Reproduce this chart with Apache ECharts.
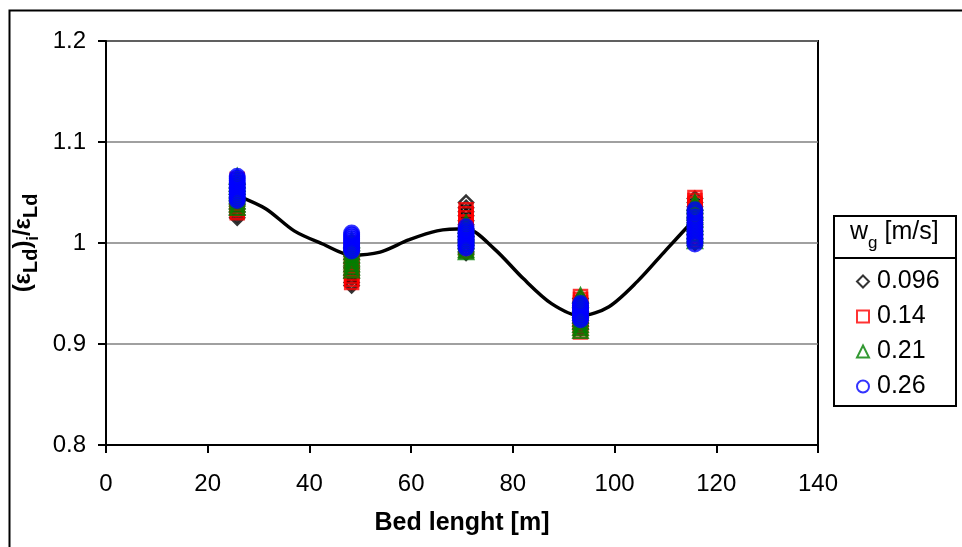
<!DOCTYPE html>
<html>
<head>
<meta charset="utf-8">
<script src="https://cdn.jsdelivr.net/npm/echarts@6/dist/echarts.min.js"></script>
<style>
  html, body { margin: 0; padding: 0; background: #fff; }
  #chart { width: 962px; height: 547px; }
</style>
</head>
<body>
<div id="chart"></div>
<script>
// bed positions of the measuring points
var clusterX = [25.8, 48.3, 70.8, 93.3, 115.8];

// (eps_Ld)i / eps_Ld values, one array per position, per gas velocity
var w0096 = [
    [1.025, 1.028, 1.031, 1.034, 1.038, 1.041, 1.044, 1.048, 1.051, 1.055, 1.058],
    [0.958, 0.961, 0.965, 0.968, 0.972, 0.976, 0.980, 0.984, 0.988, 0.992, 0.995],
    [0.990, 0.994, 0.998, 1.002, 1.006, 1.010, 1.014, 1.018, 1.022, 1.027, 1.031, 1.035, 1.040],
    [0.915, 0.918, 0.921, 0.925, 0.928, 0.931, 0.935, 0.938, 0.941, 0.945],
    [1.000, 1.004, 1.008, 1.012, 1.016, 1.020, 1.024, 1.028, 1.032, 1.036, 1.040, 1.044]
];
var w014 = [
    [1.030, 1.033, 1.036, 1.039, 1.042, 1.045, 1.048, 1.051, 1.054, 1.057, 1.060, 1.063],
    [0.961, 0.964, 0.967, 0.970, 0.973, 0.977, 0.981, 0.985, 0.989, 0.993, 0.997, 1.000],
    [0.992, 0.995, 0.998, 1.001, 1.005, 1.009, 1.013, 1.017, 1.021, 1.025, 1.029, 1.033],
    [0.912, 0.915, 0.918, 0.921, 0.924, 0.927, 0.931, 0.934, 0.937, 0.941, 0.944, 0.947],
    [1.003, 1.007, 1.011, 1.015, 1.019, 1.023, 1.027, 1.031, 1.035, 1.039, 1.042, 1.045]
];
var w021 = [
    [1.035, 1.038, 1.041, 1.044, 1.047, 1.050, 1.053, 1.056, 1.059, 1.062, 1.066],
    [0.973, 0.976, 0.979, 0.982, 0.985, 0.988, 0.991, 0.994, 0.997, 1.000, 1.003],
    [0.991, 0.993, 0.996, 0.999, 1.002, 1.005, 1.008, 1.011, 1.014, 1.017, 1.020],
    [0.913, 0.916, 0.919, 0.922, 0.925, 0.928, 0.931, 0.934, 0.937, 0.940, 0.944, 0.948],
    [1.002, 1.005, 1.009, 1.012, 1.016, 1.019, 1.023, 1.026, 1.030, 1.033, 1.037, 1.040]
];
var w026 = [
    [1.042, 1.044, 1.046, 1.048, 1.050, 1.052, 1.054, 1.056, 1.058, 1.060, 1.062, 1.064, 1.066],
    [0.992, 0.994, 0.996, 0.998, 1.000, 1.002, 1.004, 1.006, 1.008, 1.010],
    [0.995, 0.997, 0.999, 1.001, 1.003, 1.005, 1.007, 1.009, 1.011, 1.013, 1.016],
    [0.924, 0.926, 0.928, 0.930, 0.932, 0.934, 0.936, 0.938, 0.940],
    [0.999, 1.002, 1.005, 1.008, 1.011, 1.014, 1.017, 1.020, 1.023, 1.026, 1.030, 1.033]
];

// mean profile curve
var curveX = [25.8, 31.4, 37.0, 42.6, 48.3, 53.9, 59.5, 65.1, 70.8, 76.4, 82.0, 87.6, 93.3, 98.9, 104.5, 110.1, 115.8];
var curveY = [1.047, 1.034, 1.012, 0.999, 0.988, 0.991, 1.003, 1.012, 1.014, 0.994, 0.965, 0.940, 0.928, 0.937, 0.962, 0.993, 1.024];

var legendNames = ['0.096', '0.14', '0.21', '0.26'];

function toPoints(groups) {
    var pts = [];
    for (var i = 0; i < groups.length; i++) {
        for (var j = 0; j < groups[i].length; j++) {
            pts.push([clusterX[i], groups[i][j]]);
        }
    }
    return pts;
}

function curvePoints() {
    var pts = [];
    for (var i = 0; i < curveX.length; i++) {
        pts.push([curveX[i], curveY[i]]);
    }
    return pts;
}

function scatterSeries(name, groups, symbol, size, color, bw) {
    return {
        name: name,
        type: 'scatter',
        data: toPoints(groups),
        symbol: symbol,
        symbolSize: size,
        z: 3,
        itemStyle: {
            color: 'rgba(255,255,255,0)',
            borderColor: color,
            borderWidth: bw
        },
        emphasis: { disabled: true }
    };
}

var chart = echarts.init(document.getElementById('chart'));
var font = '"Liberation Sans", Arial, sans-serif';

var option = {
    animation: false,
    textStyle: { fontFamily: font },
    grid: {
        left: 106,
        top: 41,
        right: 144,
        bottom: 102,
        show: true,
        borderColor: '#000',
        borderWidth: 2,
        backgroundColor: '#fff'
    },
    xAxis: {
        type: 'value',
        min: 0,
        max: 140,
        interval: 20,
        name: 'Bed lenght [m]',
        nameLocation: 'middle',
        nameGap: 66,
        nameTextStyle: { fontSize: 25, fontWeight: 'bold', color: '#000', fontFamily: font },
        axisLine: { show: true, lineStyle: { color: '#000', width: 2 } },
        axisTick: { show: true, length: 8, lineStyle: { color: '#000', width: 2 } },
        axisLabel: { fontSize: 24, color: '#000', margin: 27, fontFamily: font },
        splitLine: { show: false }
    },
    yAxis: {
        type: 'value',
        min: 0.8,
        max: 1.2,
        interval: 0.1,
        name: '{a|(ε}{s|Ld}{a|)}{t|i}{a|/ε}{s|Ld}',
        nameLocation: 'middle',
        nameGap: 62,
        nameTextStyle: {
            color: '#000',
            rich: {
                a: { fontSize: 24, fontWeight: 'bold', fontFamily: font, color: '#000', verticalAlign: 'top', lineHeight: 30 },
                s: { fontSize: 20, fontWeight: 'bold', fontFamily: font, color: '#000', verticalAlign: 'bottom', lineHeight: 30 },
                t: { fontSize: 16, fontWeight: 'bold', fontFamily: font, color: '#000', verticalAlign: 'bottom', lineHeight: 30 }
            }
        },
        axisLine: { show: true, lineStyle: { color: '#000', width: 2 } },
        axisTick: { show: true, length: 8, lineStyle: { color: '#000', width: 2 } },
        axisLabel: {
            fontSize: 24,
            color: '#000',
            margin: 20,
            fontFamily: font,
            formatter: function (v) {
                return (Math.round(v * 10) / 10).toString();
            }
        },
        splitLine: { show: true, lineStyle: { color: '#808080', width: 1.5 } }
    },
    legend: {
        orient: 'vertical',
        left: 851,
        top: 264,
        itemWidth: 12,
        itemHeight: 12,
        itemGap: 10,
        data: legendNames,
        textStyle: { fontSize: 25, color: '#000', fontFamily: font, lineHeight: 23, padding: [0, 0, 0, 3] },
        selectedMode: false
    },
    graphic: [
        {
            type: 'rect',
            left: 7,
            top: 8,
            shape: { width: 1000, height: 600 },
            style: { fill: 'none', stroke: '#000', lineWidth: 2 },
            silent: true,
            z: -10
        },
        {
            type: 'rect',
            left: 833,
            top: 215,
            shape: { width: 122, height: 190 },
            style: { fill: '#fff', stroke: '#000', lineWidth: 2 },
            silent: true,
            z: -1
        },
        {
            type: 'line',
            shape: { x1: 833, y1: 258, x2: 955, y2: 258 },
            style: { stroke: '#000', lineWidth: 2 },
            silent: true
        },
        {
            type: 'text',
            left: 850,
            top: 220,
            style: {
                text: '{a|w}{s|g}{a| [m/s]}',
                rich: {
                    a: { fontSize: 25, fontFamily: font, fill: '#000', verticalAlign: 'top', lineHeight: 32 },
                    s: { fontSize: 17, fontFamily: font, fill: '#000', verticalAlign: 'bottom', lineHeight: 32 }
                }
            },
            silent: true
        }
    ],
    series: [
        {
            name: 'curve',
            type: 'line',
            data: curvePoints(),
            smooth: 0.3,
            showSymbol: false,
            symbol: 'none',
            z: 2,
            lineStyle: { color: '#000', width: 3.5 },
            emphasis: { disabled: true }
        },
        scatterSeries('0.096', w0096, 'diamond', 14, '#000', 2.5),
        scatterSeries('0.14', w014, 'rect', 13, '#ff0000', 2.5),
        scatterSeries('0.21', w021, 'triangle', 14, '#008000', 2.5),
        scatterSeries('0.26', w026, 'circle', 14, '#0000ff', 3)
    ]
};

chart.setOption(option);
</script>
</body>
</html>
